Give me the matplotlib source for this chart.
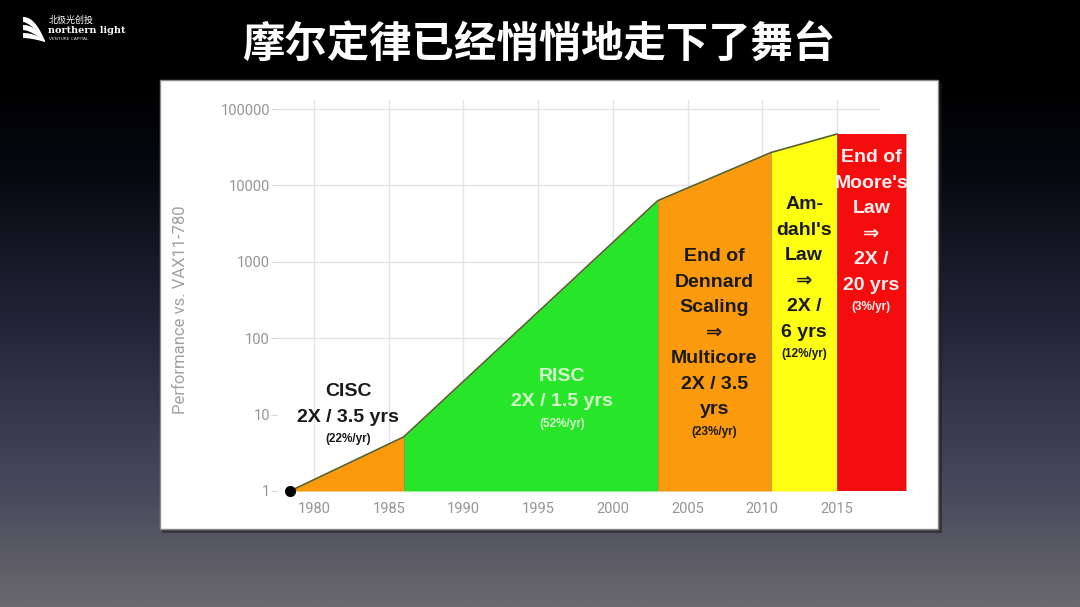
import matplotlib
matplotlib.use('Agg')
import matplotlib.pyplot as plt
import numpy as np
from matplotlib.patches import Rectangle, Polygon
from matplotlib.colors import LinearSegmentedColormap

# ---------------- data ----------------
boundary_years = [1978.4, 1986, 2003, 2010.6, 2015, 2019.6]
boundary_perf = [1, 5.1, 6300, 27000, 47000, 47000]
era_colors = ['#fb9a0c', '#27e62a', '#fb9a0c', '#ffff12', '#f50d0d']

x_ticks = [1980, 1985, 1990, 1995, 2000, 2005, 2010, 2015]
y_ticks = [1, 10, 100, 1000, 10000, 100000]
y_tick_labels = ['1', '10', '100', '1000', '10000', '100000']
grid_y = [100, 1000, 10000, 100000]

title = '摩尔定律已经悄悄地走下了舞台'
y_label = 'Performance vs. VAX11-780'

# era annotation blocks: (x centre, y of first line, text colour, lines, small line)
blocks = [
    (1982.3, 19.8, '#1a1a1a', ['CISC', '2X / 3.5 yrs'], '(22%/yr)'),
    (1996.6, 32, '#d4f6cc', ['RISC', '2X / 1.5 yrs'], '(52%/yr)'),
    (2006.8, 1156, '#1a1a1a', ['End of', 'Dennard', 'Scaling', '⇒', 'Multicore', '2X / 3.5', 'yrs'], '(23%/yr)'),
    (2012.8, 5540, '#1a1a1a', ['Am-', "dahl's", 'Law', '⇒', '2X /', '6 yrs'], '(12%/yr)'),
    (2017.3, 22850, '#fff0f0', ['End of', "Moore's", 'Law', '⇒', '2X /', '20 yrs'], '(3%/yr)'),
]

W, H = 1080, 607
fig = plt.figure(figsize=(W / 100, H / 100), dpi=100)

# ---------------- background slide ----------------
bg = fig.add_axes([0, 0, 1, 1])
bg.set_xlim(0, W)
bg.set_ylim(H, 0)
bg.axis('off')
cmap = LinearSegmentedColormap.from_list('bg', [
    (0.0, '#000000'), (0.14, '#000000'), (0.30, '#080a12'),
    (0.55, '#24273a'), (0.80, '#46475a'), (1.0, '#6a696e')])
grad = np.linspace(0, 1, 256).reshape(-1, 1)
bg.imshow(grad, aspect='auto', cmap=cmap, extent=[0, W, H, 0], zorder=0)

# white panel with soft shadow
bg.add_patch(Rectangle((162, 82), 780, 451, fc='#1a1a1a', ec='none', alpha=0.5, zorder=1))
bg.add_patch(Rectangle((160, 80), 778, 449, fc='white', ec='#8c8c8c', lw=1.0, zorder=2))

# logo
t = np.linspace(0, 1, 30)
for k, (x0, y0) in enumerate([(23, 17), (23, 25), (23, 33)]):
    top_x = x0 + 22 * t
    top_y = y0 + (41 - y0) * t ** 2.2
    bot_x = x0 + 22 * t
    bot_y = y0 + 5 + (42 - y0 - 5) * t ** 1.6
    pts = np.column_stack([np.r_[top_x, bot_x[::-1]], np.r_[top_y, bot_y[::-1]]])
    bg.add_patch(Polygon(pts, closed=True, fc='white', ec='none', zorder=3))
bg.text(49, 20, '北极光创投', color='white', fontsize=6.5, family=['Noto Sans CJK SC'],
        va='center', ha='left', zorder=4)
bg.text(48, 30.5, 'northern light', color='white', fontsize=7, weight='bold',
        family=['DejaVu Serif'], va='center', ha='left', zorder=4)
bg.text(49, 38.5, 'VENTURE CAPITAL', color='#dddddd', fontsize=3.2,
        family=['DejaVu Sans'], va='center', ha='left', zorder=4)

# title
bg.text(539, 45, title, color='white', fontsize=30.5, weight='bold',
        family=['Noto Sans CJK SC', 'DejaVu Sans'], ha='center', va='center', zorder=4)

# ---------------- chart ----------------
px_per_year = 14.94
px_per_dec = 76.4
ax_l, ax_r, ax_b, ax_t = 277, 910, 491, 100
ax = fig.add_axes([ax_l / W, (H - ax_b) / H, (ax_r - ax_l) / W, (ax_b - ax_t) / H])
ax.set_facecolor('none')
ax.set_yscale('log')
ax.set_xlim(1980 + (ax_l - 314) / px_per_year, 1980 + (ax_r - 314) / px_per_year)
ax.set_ylim(1, 10 ** ((ax_b - ax_t) / px_per_dec))
for s in ax.spines.values():
    s.set_visible(False)

grid_c = '#e4e1ea'
for xv in x_ticks:
    ax.axvline(xv, color=grid_c, lw=1, zorder=0)
grid_right = 1980 + (880 - 314) / px_per_year
for yv in grid_y:
    ax.hlines(yv, ax.get_xlim()[0], grid_right, color=grid_c, lw=1, zorder=0)

# fills per era
for i, c in enumerate(era_colors):
    xs = [boundary_years[i], boundary_years[i + 1]]
    ys = [boundary_perf[i], boundary_perf[i + 1]]
    ax.fill_between(xs, ys, 1, color=c, lw=0, zorder=2)
    ax.plot([xs[0], xs[0]], [1, ys[0]], color='#7d7a50', lw=0.6, alpha=0.6, zorder=2.5)
ax.plot([boundary_years[-1], boundary_years[-1]], [1, boundary_perf[-1]],
        color='#8a5050', lw=0.6, alpha=0.6, zorder=2.5)
ax.plot(boundary_years[:-1], boundary_perf[:-1], color='#56602a', lw=1.2, zorder=3)
ax.plot([boundary_years[0], boundary_years[-1]], [1, 1], color='#6e6a50', lw=0.8, zorder=3)
ax.plot(boundary_years[0], boundary_perf[0], 'o', color='black', ms=7, zorder=5, clip_on=False)

# ticks
ax.set_xticks(x_ticks)
ax.set_xticklabels([str(v) for v in x_ticks])
ax.set_yticks(y_ticks)
ax.set_yticklabels(y_tick_labels)
ax.minorticks_off()
ax.tick_params(axis='x', length=0, pad=8, labelsize=10.5, labelcolor='#959595')
ax.tick_params(axis='y', length=4, color='#d4d4d4', pad=1, labelsize=10.5, labelcolor='#959595')
for lab in ax.get_xticklabels() + ax.get_yticklabels():
    lab.set_family(['Roboto', 'DejaVu Sans'])

ax.set_ylabel(y_label, color='#a0a0a0', fontsize=12, family=['Roboto', 'DejaVu Sans'])
ax.yaxis.set_label_coords((188 - ax_l) / (ax_r - ax_l), (ax_b - 310) / (ax_b - ax_t))

# era annotations
fam = ['Liberation Sans', 'DejaVu Sans']
for xc, y0, col, lines, small in blocks:
    off = 0
    for j, ln in enumerate(lines):
        ax.annotate(ln, xy=(xc, y0), xytext=(0, -off * 0.72), textcoords='offset points',
                    ha='center', va='center', fontsize=14, weight='bold', color=col,
                    family=fam, zorder=6)
        off += 25.5
    off -= 3.5
    ax.annotate(small, xy=(xc, y0), xytext=(0, -off * 0.72), textcoords='offset points',
                ha='center', va='center', fontsize=8.5, weight='bold', color=col,
                family=fam, zorder=6)

fig.savefig('out.png', dpi=100)
